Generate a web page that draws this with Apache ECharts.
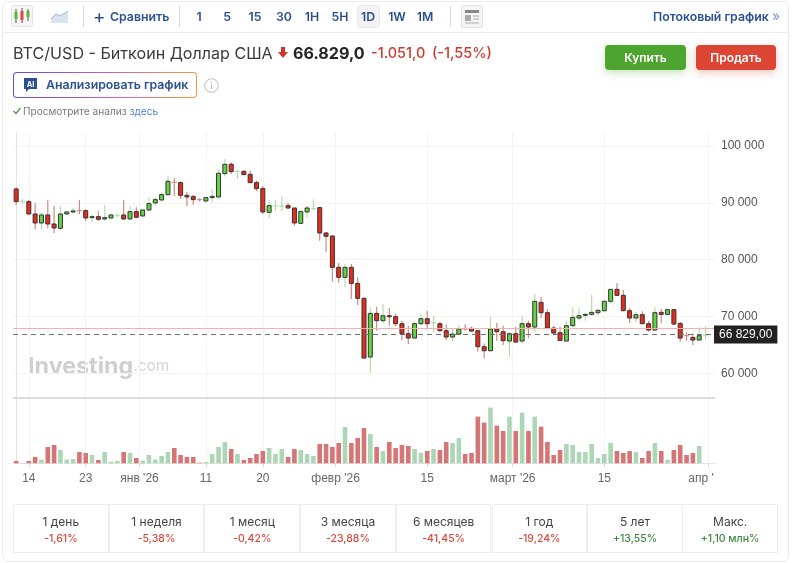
<!DOCTYPE html>
<html>
<head>
<meta charset="utf-8">
<script src="https://cdn.jsdelivr.net/npm/echarts@6/dist/echarts.min.js"></script>
<style>
html,body{margin:0;padding:0;background:#fff;}
body{width:800px;height:563px;overflow:hidden;position:relative;font-family:Inter,"Noto Sans",sans-serif;}
#chart{position:absolute;left:0;top:0;width:800px;height:563px;}
.t{position:absolute;white-space:nowrap;line-height:1;}
.card{position:absolute;left:2px;top:1px;width:785px;height:559px;border:1px solid #ececec;border-radius:6px;}
.hline{position:absolute;left:3px;top:32px;width:785px;height:1px;background:#ececec;}
.vline{position:absolute;top:6px;width:1px;height:21px;background:#d9d9d9;}
.blue{color:#2b5193;font-weight:600;font-size:12.3px;}
.iv{transform:translateX(-50%);top:11px;}
.btn{position:absolute;top:45px;height:25px;border-radius:4px;color:#fff;font-weight:600;font-size:12px;line-height:25px;text-align:center;}
.ai{position:absolute;left:13px;top:72px;width:184px;height:26px;box-sizing:border-box;border:1px solid transparent;border-radius:4px;background:linear-gradient(#fff,#fff) padding-box,linear-gradient(90deg,#5b4de0,#c060c0,#f59a3c) border-box;}
.cell{position:absolute;top:504px;width:95.7px;height:49px;box-sizing:border-box;border:1px solid #eeeeee;text-align:center;}
.cell .a{position:absolute;left:0;right:0;top:10px;font-size:12px;line-height:14px;color:#444;}
.cell .b{position:absolute;left:0;right:0;top:27px;font-size:10.5px;line-height:13px;font-weight:500;}
</style>
</head>
<body>
<div id="chart"></div>
<div class="card"></div>
<div class="hline"></div>

<!-- панель инструментов -->
<svg style="position:absolute;left:11px;top:5px" width="22" height="22"><rect x=".5" y=".5" width="21" height="21" rx="2" fill="#f5f5f5" stroke="#e4e4e4"/><path d="M5 4v14M11 3v15M17 4v12" stroke="#555" stroke-width="1"/><rect x="3.5" y="7" width="3" height="7" fill="#5bb53c"/><rect x="9.5" y="6" width="3" height="9" fill="#e0493a"/><rect x="15.5" y="6" width="3" height="6" fill="#5bb53c"/></svg>
<svg style="position:absolute;left:51px;top:10px" width="18" height="13"><path d="M0 9L5 4L9 6L17 1V13H0Z" fill="#dbe3f0"/><path d="M0 9L5 4L9 6L17 1" stroke="#9fb2d0" fill="none"/></svg>
<div class="vline" style="left:83px"></div>
<div class="t" style="left:93px;top:7px;font-size:19px;color:#2b5193;font-weight:400">+</div>
<div class="t blue" style="left:110px;top:11px">Сравнить</div>
<div class="vline" style="left:179px"></div>
<svg style="position:absolute;left:357px;top:5px" width="23" height="23"><rect x=".5" y=".5" width="22" height="22" rx="3" fill="#f3f3f3" stroke="#e8e8e8"/></svg>
<div class="t blue iv" style="left:199px">1</div>
<div class="t blue iv" style="left:227px">5</div>
<div class="t blue iv" style="left:255px">15</div>
<div class="t blue iv" style="left:284px">30</div>
<div class="t blue iv" style="left:312px">1H</div>
<div class="t blue iv" style="left:340px">5H</div>
<div class="t blue iv" style="left:368px">1D</div>
<div class="t blue iv" style="left:397px">1W</div>
<div class="t blue iv" style="left:425px">1M</div>
<div class="vline" style="left:450px"></div>
<svg style="position:absolute;left:461px;top:5px" width="22" height="23"><rect x=".5" y=".5" width="21" height="22" rx="2" fill="#f5f5f5" stroke="#e0e0e0"/><rect x="4" y="5" width="14" height="3" fill="#888"/><rect x="4" y="10" width="6" height="6" fill="#aaa"/><path d="M12 11h6M12 14h6M4 18h14" stroke="#aaa"/></svg>
<div class="t blue" style="left:653px;top:11px">Потоковый график</div>
<div class="t" style="left:772px;top:9px;font-size:14px;color:#7d96c0">»</div>

<!-- заголовок -->
<div class="t" style="left:13px;top:45px;font-size:16.1px;color:#3a3a3a">BTC/USD - Биткоин Доллар США</div>
<svg style="position:absolute;left:278px;top:47px" width="10" height="12"><path d="M3 0H7V5H10L5 11L0 5H3Z" fill="#d0342c"/></svg>
<div class="t" style="left:293px;top:45px;font-size:16.1px;font-weight:700;color:#262626">66.829,0</div>
<div class="t" style="left:371px;top:46px;font-size:14.5px;font-weight:500;color:#cf3a2e">-1.051,0</div>
<div class="t" style="left:432px;top:46px;font-size:14.5px;font-weight:500;color:#cf3a2e">(-1,55%)</div>
<div class="btn" style="left:605px;width:81px;background:#4da52f;box-shadow:0 3px 8px rgba(77,165,47,.3)">Купить</div>
<div class="btn" style="left:696px;width:80px;background:#dc4433;box-shadow:0 3px 8px rgba(220,68,51,.3)">Продать</div>
<div class="ai"></div>
<svg style="position:absolute;left:23px;top:78px" width="15" height="15"><path d="M1 0H14V11H6L3 14V11H1Z" fill="#2b5193"/><text x="7.5" y="8.5" font-size="7.5" font-weight="700" fill="#fff" text-anchor="middle" font-family="Inter">AI</text></svg>
<div class="t blue" style="left:46px;top:79px">Анализировать график</div>
<svg style="position:absolute;left:204px;top:78px" width="15" height="15"><circle cx="7.5" cy="7.5" r="6.8" fill="none" stroke="#bbb"/><path d="M7.5 6.5v4.5M7.5 4v1.3" stroke="#bbb" stroke-width="1.2"/></svg>
<svg style="position:absolute;left:13px;top:107px" width="8" height="8"><path d="M.5 4L3 6.5L7.5 1" fill="none" stroke="#4b9a4b" stroke-width="1.3"/></svg>
<div class="t" style="left:23px;top:106px;font-size:10.1px;color:#7a7a7a">Просмотрите анализ <span style="color:#4f7fd0">здесь</span></div>

<!-- таблица доходности -->
<div class="cell" style="left:13px"><div class="a">1 день</div><div class="b" style="color:#d9483b">-1,61%</div></div>
<div class="cell" style="left:108.7px"><div class="a">1 неделя</div><div class="b" style="color:#d9483b">-5,38%</div></div>
<div class="cell" style="left:204.4px"><div class="a">1 месяц</div><div class="b" style="color:#d9483b">-0,42%</div></div>
<div class="cell" style="left:300.1px"><div class="a">3 месяца</div><div class="b" style="color:#d9483b">-23,88%</div></div>
<div class="cell" style="left:395.8px"><div class="a">6 месяцев</div><div class="b" style="color:#d9483b">-41,45%</div></div>
<div class="cell" style="left:491.5px"><div class="a">1 год</div><div class="b" style="color:#d9483b">-19,24%</div></div>
<div class="cell" style="left:587.2px"><div class="a">5 лет</div><div class="b" style="color:#3f8a3f">+13,55%</div></div>
<div class="cell" style="left:682.3px"><div class="a">Макс.</div><div class="b" style="color:#3f8a3f">+1,10 млн%</div></div>

<script>
// свечи по дням
var opens = [
	92426,90196,90196,88025,86442,87850,86266,85503,88025,88378,
	88612,88612,87380,87556,87146,87322,87790,87850,87146,88437,
	87673,88730,89962,90489,91428,93599,93540,91311,91077,90548,
	90313,90900,91018,95125,96767,95535,95535,95007,93540,92484,
	88319,89434,89434,89492,89082,86383,88378,88965,89141,84682,
	84153,78640,76880,78640,75823,73183,62857,70543,69252,70133,
	69956,68724,66963,66202,68724,69604,68900,68724,67492,66378,
	66906,67786,67903,67492,64677,63972,67786,67316,65674,66964,
	65674,68725,68138,72479,70661,67962,67141,65674,68373,69722,
	70191,70367,70661,71013,72655,74768,73711,71013,69722,70309,
	68725,67610,70719,70367,71188,68783,66612,66319,65850,66700
];
var closes = [
	90196,90313,88025,86442,87850,86266,85562,88025,88378,88560,
	88530,87322,87550,87087,87380,87850,87850,87146,88437,87439,
	88730,89844,90548,91428,93775,93482,91311,91018,90548,90430,
	90900,91135,95183,96767,95477,95594,94949,93540,92484,88378,
	89492,89492,89492,89082,86442,88437,89082,89024,84682,84095,
	78640,76880,78640,75823,73183,62681,70543,69252,70133,69956,
	68724,66963,66202,68724,69604,68724,68959,67492,66378,66906,
	67786,67727,67434,64677,63972,67786,67316,65733,66964,65498,
	68725,68138,72655,70661,67962,67082,65791,68373,69839,70133,
	70367,70719,71071,72655,74768,73711,71013,69722,70309,68725,
	67610,70661,70367,71188,68666,66202,66495,65850,66612,66829
];
var lows = [
	89668,89903,87908,85327,85327,85503,84623,85268,87908,88025,
	88025,86735,86559,86852,86852,87146,87439,87029,86969,87263,
	87556,88495,89434,90255,91194,91194,90665,89434,89668,90196,
	90079,90079,90783,94596,95066,94186,94831,93423,92015,88025,
	87263,88495,88612,88905,85972,86266,87322,88730,83332,81279,
	76117,75941,75119,73066,72010,62681,60159,67492,68842,68372,
	68255,65850,65146,66143,68431,67903,67199,67316,65850,65615,
	66730,67492,67257,63855,62622,63855,65733,64970,62974,65322,
	65263,66143,67316,69663,67903,66847,65674,65615,68079,69252,
	69252,70133,70250,70719,72186,73535,70895,68842,68959,68666,
	67316,67492,68783,70133,68490,65556,65733,64970,65850,65850
];
var highs = [
	92719,90666,90489,89903,88319,90489,89434,89434,88612,89141,
	90489,88847,87908,88494,89551,88025,88143,90489,89434,89199,
	88905,90959,90959,91839,94773,94362,93775,91839,91370,90783,
	91076,92426,95946,97706,97119,95770,95653,95653,93892,92954,
	90489,90489,91135,89962,89082,88730,89492,90606,89317,84799,
	84300,79402,79226,79226,76880,73359,71599,71716,72186,71482,
	70426,69252,68372,69076,70426,71012,70133,69076,68548,67786,
	68372,68607,68196,67610,65263,69956,68841,68372,67199,68196,
	70133,69252,73946,73477,71306,68373,68197,69252,71599,71423,
	70660,73829,71423,72890,74768,75882,74650,71482,70719,70895,
	69252,71599,71306,71306,71306,68959,67199,67023,68079,68255
];
// объем, в условных единицах; у последней свечи столбца нет
var volumes = [
	7,1,7,19,11,49,55,40,11,13,
	34,31,25,10,34,5,7,34,31,16,
	7,25,11,22,34,46,25,19,19,2,
	4,28,49,64,43,28,10,16,28,37,
	46,28,43,19,43,40,28,22,58,58,
	49,61,109,61,76,106,88,49,37,64,
	46,55,52,43,31,37,43,40,64,61,
	76,28,31,140,122,167,113,97,140,97,
	152,97,140,110,64,25,40,58,55,34,
	34,58,16,28,61,37,31,37,34,16,
	37,61,37,10,40,55,25,31,52
];
var lastPrice = 66829;
var prevClose = 67880;
// месяц начинается на границе свечи, поэтому позиции с .5
var tickPositions = [2,11,19.5,30,39,50.5,65,78.5,93,109.5];
// последняя подпись обрезана и стоит левее своей риски
var labelPositions = [2,11,19.5,30,39,50.5,65,78.5,93,108.3];
var tickLabels = ['14','23',"янв '26",'11','20',"февр '26",'15',"март '26",'15',"апр '"];

var VOL_MAX = 991;//столбцы занимают только низ общей сетки
var SEPARATOR = 197;
var AXIS_FONT = 'Liberation Sans';

function fmtPrice(v){
	return String(v).replace(/\B(?=(\d{3})+$)/g,' ');
}

function renderCandle(params,api){
	var i = api.value(0), o = api.value(1), c = api.value(2);
	var x = api.coord([i,o])[0];
	var yo = api.coord([i,o])[1], yc = api.coord([i,c])[1];
	var yl = api.coord([i,api.value(3)])[1], yh = api.coord([i,api.value(4)])[1];
	var up = c >= o;
	var wick = up ? '#b5dbab' : '#d08a80';
	var kids = [{
		type:'line',
		shape:{x1:x,y1:yh,x2:x,y2:yl},
		style:{stroke:wick,lineWidth:1.2}
	}];
	if(Math.abs(c-o) < 150){
		// почти доджи: только бледный крест
		kids.push({
			type:'line',
			shape:{x1:x-2.5,y1:yo,x2:x+2.5,y2:yo},
			style:{stroke:wick,lineWidth:1.2}
		});
	}else{
		kids.push({
			type:'rect',
			shape:{x:x-2,y:Math.min(yo,yc),width:4,height:Math.abs(yc-yo)},
			style:{fill:up ? '#62d43f' : '#e82c1c',stroke:'#333',lineWidth:1}
		});
	}
	return {type:'group',children:kids};
}

var candleData = opens.map(function(o,i){
	return [i,o,closes[i],lows[i],highs[i]];
});
var volumeData = volumes.map(function(v,i){
	return {
		value:[i,v],
		itemStyle:{color:closes[i] >= opens[i] ? '#acd6b5' : '#d67575'}
	};
});

var chart = echarts.init(document.getElementById('chart'));
chart.setOption({
	animation:false,
	textStyle:{fontFamily:AXIS_FONT},
	graphic:[{
		type:'text',
		left:28,
		top:355,
		silent:true,
		z:0,
		style:{
			text:'{a|Investing}{b|.com}',
			rich:{
				a:{fontFamily:'Inter',fontSize:23.3,fontWeight:700,fill:'#cfcfcf'},
				b:{fontFamily:'Inter',fontSize:15.5,fontWeight:400,fill:'#d4d4d4'}
			}
		}
	}],
	grid:[
		{left:13,width:702,top:145.9,height:227.4},
		{left:13,width:702,top:133,height:330.3}
	],
	xAxis:[{
		type:'value',
		gridIndex:0,
		min:-0.5,
		max:110.5,
		show:false
	},{
		type:'value',
		gridIndex:1,
		min:-0.5,
		max:110.5,
		axisLine:{show:true,lineStyle:{color:'#e4e4e4'}},
		axisTick:{show:true,length:4,lineStyle:{color:'#d8d8d8'},customValues:tickPositions},
		splitLine:{show:true,lineStyle:{color:'#f4f4f4'}},
		axisLabel:{
			customValues:labelPositions,
			color:'#666',
			fontFamily:AXIS_FONT,
			fontSize:12,
			margin:9,
			formatter:function(v){
				return tickLabels[labelPositions.indexOf(v)];
			}
		}
	}],
	yAxis:[{
		type:'value',
		gridIndex:0,
		position:'right',
		min:60000,
		max:100000,
		interval:10000,
		axisLine:{show:false},
		axisTick:{show:false},
		splitLine:{lineStyle:{color:'#f4f4f4'}},
		axisLabel:{color:'#555',fontFamily:AXIS_FONT,fontSize:12,margin:6,formatter:fmtPrice}
	},{
		type:'value',
		gridIndex:1,
		position:'right',
		min:0,
		max:VOL_MAX,
		axisLine:{show:true,lineStyle:{color:'#e4e4e4'}},
		axisTick:{show:false},
		splitLine:{show:false},
		axisLabel:{show:false}
	}],
	series:[{
		type:'bar',
		xAxisIndex:1,
		yAxisIndex:1,
		barWidth:4.6,
		data:volumeData,
		markLine:{
			silent:true,
			symbol:'none',
			label:{show:false},
			lineStyle:{color:'#dcdcdc',width:2,type:'solid'},
			data:[{yAxis:SEPARATOR}]
		}
	},{
		type:'custom',
		xAxisIndex:0,
		yAxisIndex:0,
		renderItem:renderCandle,
		encode:{x:0,y:[1,2,3,4]},
		clip:false,
		data:candleData,
		z:3,
		markLine:{
			silent:true,
			symbol:'none',
			precision:0,
			data:[{
				yAxis:prevClose,
				lineStyle:{color:'#f5b0ac',width:1,type:'solid'},
				label:{show:false}
			},{
				yAxis:lastPrice,
				lineStyle:{color:'#707070',width:1,type:[5,4]},
				label:{
					show:true,
					position:'end',
					distance:-1,
					backgroundColor:'#222',
					color:'#fff',
					fontFamily:AXIS_FONT,
					fontSize:12,
					padding:[4,5,2,5],
					formatter:fmtPrice(lastPrice)+',00'
				}
			}]
		}
	}]
});
</script>
</body>
</html>
